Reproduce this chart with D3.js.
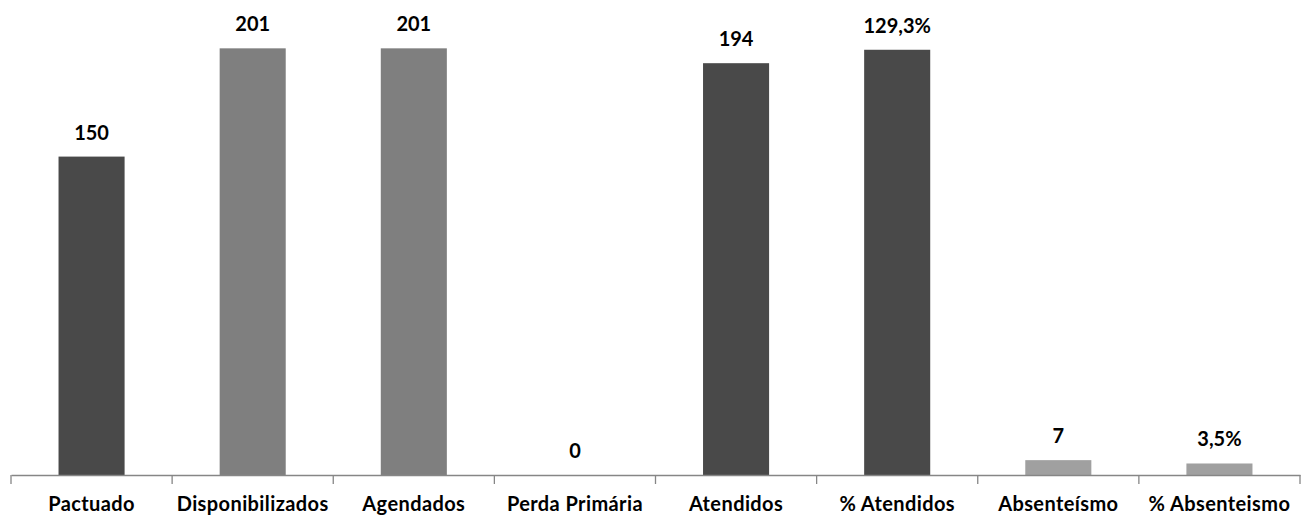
<!DOCTYPE html>
<html>
<head>
<meta charset="utf-8">
<script src="https://cdn.jsdelivr.net/npm/d3@7"></script>
<style>
  body { margin: 0; background: #fff; }
  svg text { font-family: Lato, "Open Sans", sans-serif; font-weight: bold; fill: #000; }
</style>
</head>
<body>
<svg id="chart" width="1303" height="517"></svg>
<script>
// categories and values
var categories = ['Pactuado', 'Disponibilizados', 'Agendados', 'Perda Primária',
    'Atendidos', '% Atendidos', 'Absenteísmo', '% Absenteismo'];
var values = [150, 201, 201, 0, 194, 129.3, 7, 3.5];
var labels = ['150', '201', '201', '0', '194', '129,3%', '7', '3,5%'];
var isPercent = [false, false, false, false, false, true, false, true];
var shades = ['dark', 'mid', 'mid', 'mid', 'dark', 'dark', 'light', 'light'];

var colors = {dark: '#494949', mid: '#7f7f7f', light: '#a0a0a0'};

var svg = d3.select('#chart');
var plotLeft = 11, plotRight = 1300, baseline = 475, plotTop = 8;

var x = d3.scaleBand()
    .domain(categories)
    .range([plotLeft, plotRight])
    .padding(0);

// counts on the main axis, percentages on a secondary one
var y = d3.scaleLinear().domain([0, 220]).range([baseline, plotTop]);
var y2 = d3.scaleLinear().domain([0, 142]).range([baseline, plotTop]);

var barWidth = x.bandwidth() * 0.41;

var rows = categories.map(function (c, i) {
    return {cat: c, val: values[i], label: labels[i], pct: isPercent[i], shade: shades[i]};
});

function yOf(d) {
    return d.pct ? y2(d.val) : y(d.val);
}

svg.append('g')
    .selectAll('rect')
    .data(rows)
    .enter()
    .append('rect')
    .attr('x', function (d) { return x(d.cat) + (x.bandwidth() - barWidth) / 2; })
    .attr('y', yOf)
    .attr('width', barWidth)
    .attr('height', function (d) { return baseline - yOf(d); })
    .style('fill', function (d) { return colors[d.shade]; });

// value labels above each bar
svg.append('g')
    .selectAll('text')
    .data(rows)
    .enter()
    .append('text')
    .attr('x', function (d) { return x(d.cat) + x.bandwidth() / 2; })
    .attr('y', function (d) { return yOf(d) - 17; })
    .attr('text-anchor', 'middle')
    .style('font-size', '20px')
    .text(function (d) { return d.label; });

// x axis with labels centred and ticks on the category boundaries
var axis = svg.append('g')
    .attr('transform', 'translate(0,' + baseline + ')')
    .call(d3.axisBottom(x).tickSize(0).tickPadding(22));
axis.select('.domain').attr('stroke', '#868686').attr('stroke-width', 1.3);
axis.selectAll('.tick text')
    .style('font-size', '20px')
    .style('letter-spacing', '0.4px')
    .attr('dy', '0.71em');

var bounds = categories.map(function (c) { return x(c); }).concat([plotRight]);
axis.selectAll('line.boundary')
    .data(bounds)
    .enter()
    .append('line')
    .attr('class', 'boundary')
    .attr('x1', function (d) { return d; })
    .attr('x2', function (d) { return d; })
    .attr('y1', 0)
    .attr('y2', 9)
    .attr('stroke', '#868686')
    .attr('stroke-width', 1.3);
</script>
</body>
</html>
